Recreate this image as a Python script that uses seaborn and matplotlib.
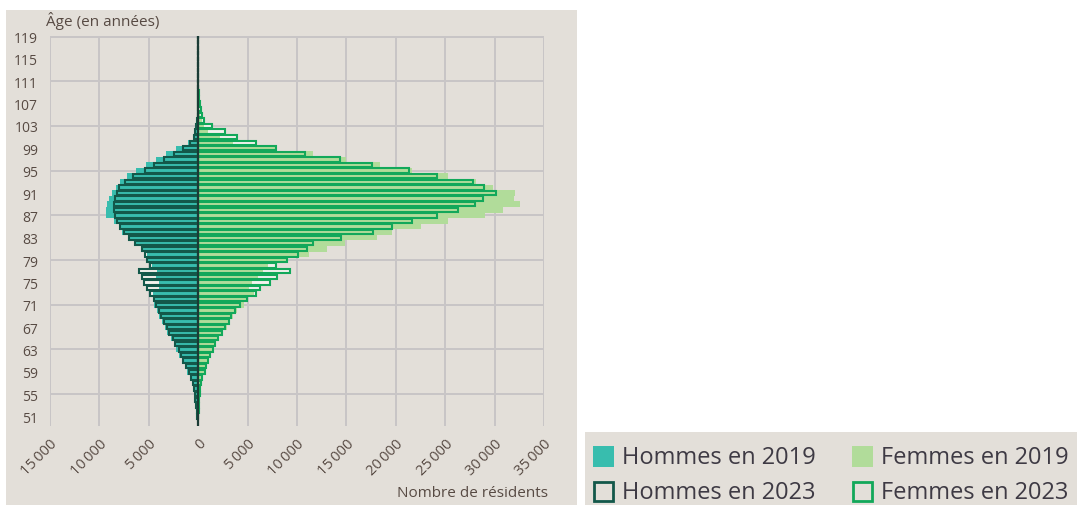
import numpy as np
import matplotlib
matplotlib.use("Agg")
import matplotlib.pyplot as plt
from matplotlib.patches import Rectangle
import seaborn as sns

# ---------------- data (ages 51 .. 119) ----------------
ages = list(range(51, 120))

hommes_2019 = [110, 160, 220, 300, 380, 500, 650, 850, 1100, 1350,          # 51-60
               1600, 1900, 2200, 2500, 2800, 3150, 3400, 3700, 3950, 4200,  # 61-70
               4450, 4600, 4550, 4000, 4000, 4250, 4200, 4650, 5100, 5200,  # 71-80
               5700, 6380, 6900, 7700, 8060, 8570, 9300, 9350, 9240, 9000,  # 81-90
               8740, 8300, 7900, 7200, 6300, 5300, 4300, 3300, 2200, 1000,  # 91-100
               550, 280, 150, 80, 40, 20, 10, 5, 3, 2,                       # 101-110
               1, 1, 0, 0, 0, 0, 0, 0, 0]                                    # 111-119

hommes_2023 = [120, 170, 230, 300, 370, 470, 570, 740, 980, 1250,
               1490, 1720, 1990, 2330, 2600, 2930, 3170, 3500, 3740, 4010,
               4280, 4520, 4860, 5200, 5530, 5700, 6040, 4860, 5200, 5360,
               5700, 6380, 7050, 7560, 7900, 8230, 8400, 8570, 8570, 8400,
               8230, 8050, 7400, 6550, 5400, 4500, 3500, 2500, 1500, 800,
               470, 300, 200, 120, 70, 40, 20, 10, 5, 3,
               2, 1, 1, 0, 0, 0, 0, 0, 0]

femmes_2019 = [40, 60, 80, 120, 180, 250, 350, 500, 700, 850,
               1050, 1300, 1550, 1850, 2150, 2550, 2900, 3250, 3570, 3900,
               4590, 5000, 5600, 5100, 5400, 6100, 6600, 7100, 9000, 11200,
               13000, 14900, 18100, 19600, 22500, 25300, 29000, 30900, 32600, 32000,
               32100, 29800, 28100, 25300, 21600, 18400, 15000, 11600, 8000, 3550,
               2200, 1000, 600, 350, 200, 100, 50, 25, 12, 6,
               3, 2, 1, 0, 0, 0, 0, 0, 0]

femmes_2023 = [30, 50, 70, 100, 150, 200, 300, 430, 640, 760,
               970, 1210, 1450, 1720, 2000, 2400, 2730, 3070, 3340, 3680,
               4250, 4930, 5800, 6300, 7300, 8000, 9300, 7900, 9000, 10100,
               11000, 11600, 14500, 17700, 19600, 21600, 24200, 26300, 28000, 28800,
               30100, 28900, 27800, 24200, 21300, 17600, 14400, 10800, 7900, 5800,
               3900, 2700, 1400, 550, 400, 250, 150, 80, 40, 20,
               10, 5, 3, 2, 1, 0, 0, 0, 0]

x_ticks = list(range(-15000, 35001, 5000))
x_tick_labels = ["15\u2009000", "10\u2009000", "5\u2009000", "0", "5\u2009000",
                 "10\u2009000", "15\u2009000", "20\u2009000", "25\u2009000",
                 "30\u2009000", "35\u2009000"]
y_ticks = list(range(51, 120, 4))
y_grid = list(range(55, 120, 8))
legend_labels = ["Hommes en 2019", "Femmes en 2019", "Hommes en 2023", "Femmes en 2023"]

assert all(len(v) == len(ages) for v in (hommes_2019, hommes_2023, femmes_2019, femmes_2023))

# ---------------- style ----------------
sns.set_theme(style="white")
plt.rcParams["font.family"] = ["Open Sans", "DejaVu Sans"]

BEIGE = "#e3dfd9"
GRID = "#c8c5c6"
TXT = "#574a43"
TEAL = "#38bdae"
PALE = "#b1dc9a"
DARK_EDGE = "#13584a"
GREEN_EDGE = "#12a85a"
ZERO = "#1b3b35"

W, H = 1077, 506
fig = plt.figure(figsize=(W / 100, H / 100), dpi=100, facecolor="white")


def fx(px):
    return px / W


def fy(py):
    return 1 - py / H


# beige panels
fig.patches.append(Rectangle((fx(6), 0), fx(577) - fx(6), fy(11), transform=fig.transFigure,
                             facecolor=BEIGE, edgecolor="none", zorder=-10))
fig.patches.append(Rectangle((fx(585), 0), fx(1077) - fx(585), fy(433), transform=fig.transFigure,
                             facecolor=BEIGE, edgecolor="none", zorder=-10))

ax = fig.add_axes([fx(50), fy(427), fx(544) - fx(50), fy(37) - fy(427)])
ax.set_facecolor("none")

men19 = -np.asarray(hommes_2019, dtype=float)
men23 = -np.asarray(hommes_2023, dtype=float)
wom19 = np.asarray(femmes_2019, dtype=float)
wom23 = np.asarray(femmes_2023, dtype=float)

common = dict(y=ages, orient="y", native_scale=True, errorbar=None, saturation=1, ax=ax)

# 2023 white interiors (under 2019)
for vals in (men23, wom23):
    sns.barplot(x=vals, color="#f3f2ee", width=0.78, linewidth=0, zorder=2, **common)
# 2019 filled bars
sns.barplot(x=men19, color=TEAL, width=1.0, linewidth=0, zorder=3, **common)
sns.barplot(x=wom19, color=PALE, width=1.0, linewidth=0, zorder=3, **common)
# 2023 outlines
sns.barplot(x=men23, color=DARK_EDGE, fill=False, width=0.78, linewidth=1.5, zorder=4, **common)
sns.barplot(x=wom23, color=GREEN_EDGE, fill=False, width=0.78, linewidth=1.5, zorder=4, **common)

ax.axvline(0, color=ZERO, lw=1.6, zorder=6)

ax.set_xlim(-15000, 35000)
ax.set_ylim(49.3, 119.1)
ax.set_xlabel("")
ax.set_ylabel("")

ax.set_xticks(x_ticks)
ax.set_xticklabels(x_tick_labels, rotation=45, ha="right", va="top",
                   rotation_mode="anchor", fontsize=10.5, color=TXT)
ax.set_yticks(y_ticks)
ax.set_yticklabels([str(a) for a in y_ticks], fontsize=10, color=TXT)
ax.tick_params(axis="x", which="both", length=0, pad=7)
ax.tick_params(axis="y", which="both", length=0, pad=8.5)

# grid
ax.grid(False)
for xv in x_ticks:
    if xv != 0:
        ax.axvline(xv, color=GRID, lw=1.4, zorder=0.5)
for yv in y_grid:
    ax.axhline(yv, color=GRID, lw=1.4, zorder=0.5)
for s in ax.spines.values():
    s.set_visible(False)

fig.text(fx(46), fy(21), "Âge (en années)", ha="left", va="center", fontsize=11, color=TXT)
fig.text(fx(548), fy(494), "Nombre de résidents", ha="right", va="center", fontsize=11, color=TXT)

# ---------------- legend ----------------
LEG_TXT = "#3e3a44"
sq = 21
entries = [
    (593, 447, legend_labels[0], dict(facecolor=TEAL, edgecolor="none")),
    (852, 447, legend_labels[1], dict(facecolor=PALE, edgecolor="none")),
    (593, 482, legend_labels[2], dict(facecolor="none", edgecolor=DARK_EDGE, linewidth=2.0)),
    (852, 482, legend_labels[3], dict(facecolor="none", edgecolor=GREEN_EDGE, linewidth=2.0)),
]
for (px, py, lab, kw) in entries:
    inset = 1 if kw.get("facecolor") == "none" else 0
    fig.patches.append(Rectangle((fx(px + inset), fy(py + sq - inset)),
                                 fx(sq - 2 * inset), (sq - 2 * inset) / H,
                                 transform=fig.transFigure, zorder=5, **kw))
    fig.text(fx(px + 29), fy(py + sq / 2 + 0.5), lab, ha="left", va="center",
             fontsize=17, color=LEG_TXT)

fig.savefig("out.png", dpi=100, facecolor="white")
